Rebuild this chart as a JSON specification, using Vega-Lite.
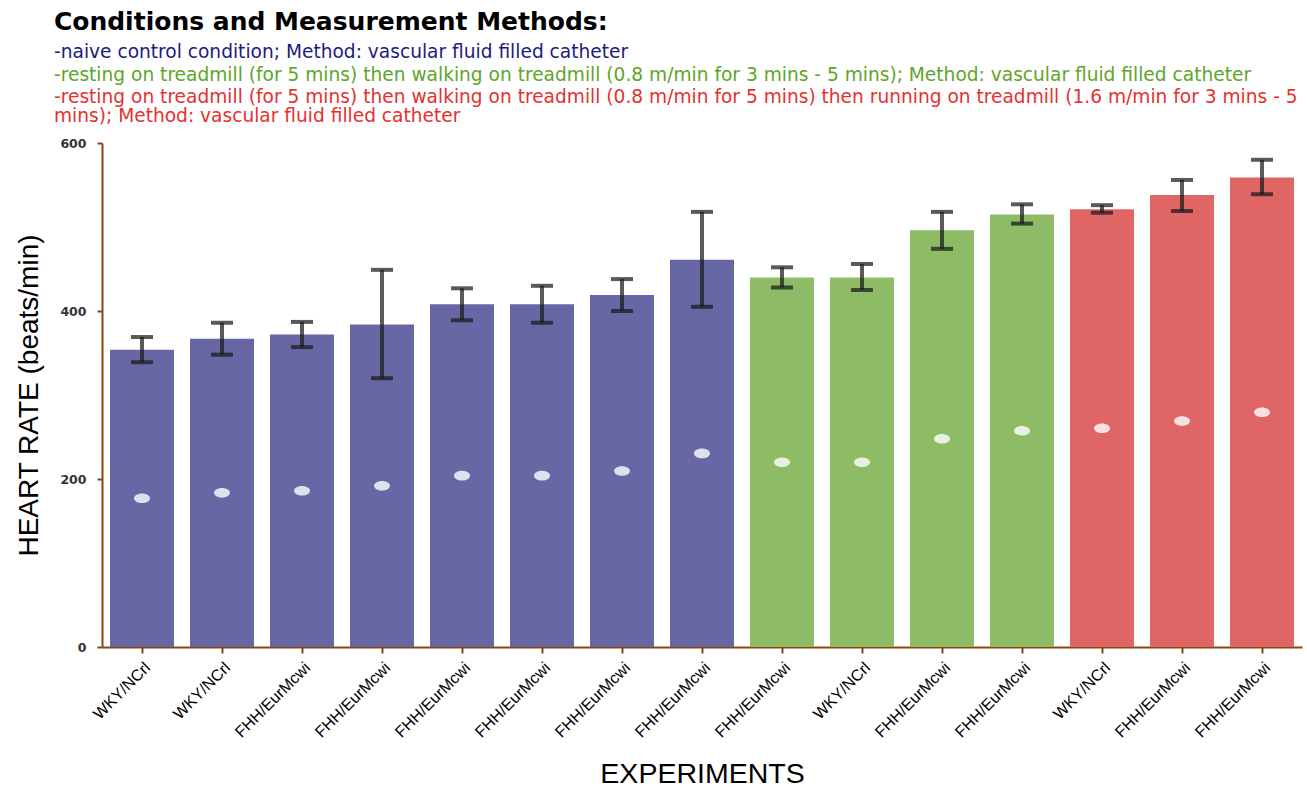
{
  "$schema": "https://vega.github.io/schema/vega-lite/v6.json",
  "padding": {"left": 15, "top": 10, "right": 3, "bottom": 0},
  "background": "white",
  "config": {"view": {"stroke": null}},
  "title": {"text": "Conditions and Measurement Methods:", "anchor": "start", "font": "DejaVu Sans", "fontSize": 25, "fontWeight": "bold", "color": "#000000", "offset": 2, "dx": 38},
  "resolve": {"scale": {"color": "independent"}},
  "spacing": 11,
  "vconcat": [
    {
      "width": 1200,
      "height": {"step": 22.5},
      "data": {"values": [
        {"line": 1, "cond": "naive", "text": ["\u00a0\u2009-naive control condition; Method: vascular fluid filled catheter"]},
        {"line": 2, "cond": "walking", "text": ["\u00a0\u2009-resting on treadmill (for 5 mins) then walking on treadmill (0.8 m/min for 3 mins - 5 mins); Method: vascular fluid filled catheter"]},
        {"line": 3, "cond": "running", "text": ["\u00a0\u2009-resting on treadmill (for 5 mins) then walking on treadmill (0.8 m/min for 5 mins) then running on treadmill (1.6 m/min for 3 mins - 5", "mins); Method: vascular fluid filled catheter"]}
      ]},
      "mark": {"type": "text", "align": "left", "baseline": "top", "font": "DejaVu Sans", "fontSize": 18.6, "lineHeight": 19, "dy": -5},
      "encoding": {
        "x": {"value": -48},
        "y": {"field": "line", "type": "ordinal", "axis": null, "scale": {"type": "point", "padding": 0.5}},
        "text": {"field": "text"},
        "color": {"field": "cond", "type": "nominal", "legend": null, "scale": {"domain": ["naive", "walking", "running"], "range": ["#1c1c80", "#5ea52a", "#e5312f"]}}
      }
    },
    {
      "width": 1200,
      "height": 504,
      "data": {"values": [
        {"exp": "WKY/NCrl#1", "cond": "naive", "value": 354, "lo": 339, "hi": 369, "mid": 177},
        {"exp": "WKY/NCrl#2", "cond": "naive", "value": 367, "lo": 348, "hi": 386, "mid": 183.5},
        {"exp": "FHH/EurMcwi#3", "cond": "naive", "value": 372, "lo": 357, "hi": 387, "mid": 186},
        {"exp": "FHH/EurMcwi#4", "cond": "naive", "value": 384, "lo": 320, "hi": 449, "mid": 192},
        {"exp": "FHH/EurMcwi#5", "cond": "naive", "value": 408, "lo": 389, "hi": 427, "mid": 204},
        {"exp": "FHH/EurMcwi#6", "cond": "naive", "value": 408, "lo": 386, "hi": 430, "mid": 204},
        {"exp": "FHH/EurMcwi#7", "cond": "naive", "value": 419, "lo": 400, "hi": 438, "mid": 209.5},
        {"exp": "FHH/EurMcwi#8", "cond": "naive", "value": 461, "lo": 405, "hi": 518, "mid": 230.5},
        {"exp": "FHH/EurMcwi#9", "cond": "walking", "value": 440, "lo": 428, "hi": 452, "mid": 220},
        {"exp": "WKY/NCrl#10", "cond": "walking", "value": 440, "lo": 425, "hi": 456, "mid": 220},
        {"exp": "FHH/EurMcwi#11", "cond": "walking", "value": 496, "lo": 474, "hi": 518, "mid": 248},
        {"exp": "FHH/EurMcwi#12", "cond": "walking", "value": 515, "lo": 504, "hi": 527, "mid": 257.5},
        {"exp": "WKY/NCrl#13", "cond": "running", "value": 521, "lo": 517, "hi": 526, "mid": 260.5},
        {"exp": "FHH/EurMcwi#14", "cond": "running", "value": 538, "lo": 519, "hi": 556, "mid": 269},
        {"exp": "FHH/EurMcwi#15", "cond": "running", "value": 559, "lo": 539, "hi": 580, "mid": 279.5}
      ]},
      "encoding": {
        "x": {"field": "exp", "type": "nominal", "sort": null, "scale": {"paddingInner": 0.2, "paddingOuter": 0.1},
          "axis": {"title": "EXPERIMENTS", "titleFont": "Liberation Sans", "titleFontSize": 28.5, "titleFontWeight": "normal", "titleColor": "#000000", "titlePadding": 19,
            "labelExpr": "split(datum.label, '#')[0]", "labelAngle": -45, "labelAlign": "right", "labelBaseline": "top", "labelFont": "Liberation Sans", "labelFontSize": 16, "labelColor": "#000000", "labelPadding": 6,
            "domainColor": "#8b4513", "domainWidth": 2, "tickColor": "#8b4513", "tickWidth": 2, "tickSize": 6}}
      },
      "layer": [
        {
          "mark": {"type": "bar"},
          "encoding": {
            "y": {"field": "value", "type": "quantitative", "scale": {"domain": [0, 600]},
              "axis": {"title": "HEART RATE (beats/min)", "titleFont": "Liberation Sans", "titleFontSize": 28, "titleFontWeight": "normal", "titleColor": "#000000", "titlePadding": 16,
                "values": [0, 200, 400, 600], "grid": false, "labelFont": "DejaVu Sans", "labelFontSize": 12.5, "labelFontWeight": "bold", "labelColor": "#333333", "labelPadding": 11,
                "domainColor": "#8b4513", "domainWidth": 2, "tickColor": "#8b4513", "tickWidth": 2, "tickSize": 5}},
            "color": {"field": "cond", "type": "nominal", "legend": null, "scale": {"domain": ["naive", "walking", "running"], "range": ["#6767a5", "#8dbb66", "#e06666"]}}
          }
        },
        {
          "mark": {"type": "rule", "color": "#1a1a1a", "opacity": 0.72, "strokeWidth": 4},
          "encoding": {"y": {"field": "lo", "type": "quantitative"}, "y2": {"field": "hi"}}
        },
        {
          "mark": {"type": "tick", "color": "#1a1a1a", "opacity": 0.72, "thickness": 4, "size": 22},
          "encoding": {"y": {"field": "lo", "type": "quantitative"}}
        },
        {
          "mark": {"type": "tick", "color": "#1a1a1a", "opacity": 0.72, "thickness": 4, "size": 22},
          "encoding": {"y": {"field": "hi", "type": "quantitative"}}
        },
        {
          "mark": {"type": "point", "shape": "M-1,0 A1,0.6 0 1,0 1,0 A1,0.6 0 1,0 -1,0 Z", "filled": true, "color": "#ffffff", "opacity": 0.8, "size": 256},
          "encoding": {"y": {"field": "mid", "type": "quantitative"}}
        }
      ]
    }
  ]
}
